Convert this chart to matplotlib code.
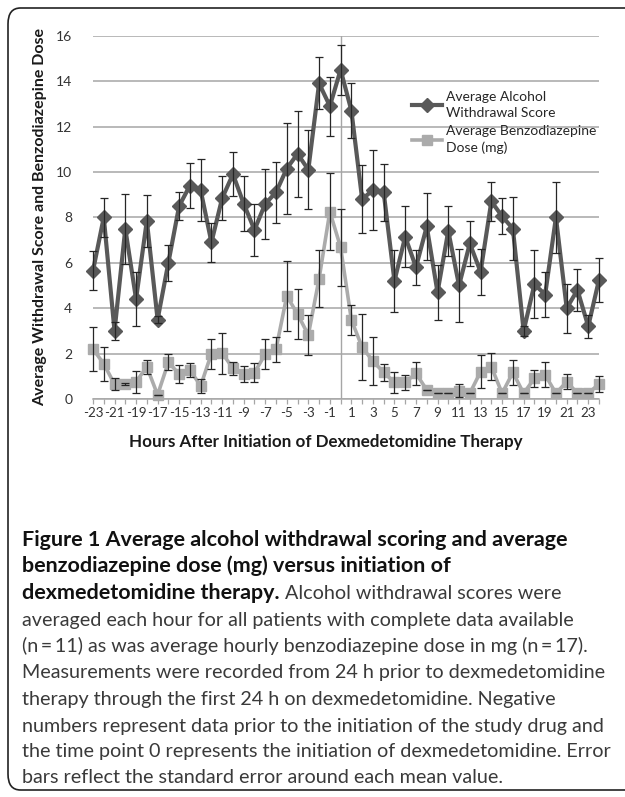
import matplotlib
matplotlib.use('Agg')
import matplotlib.pyplot as plt
from matplotlib.patches import FancyBboxPatch

plt.rcParams['font.family'] = ['Lato', 'DejaVu Sans']

# data (hours relative to dexmedetomidine start)
hours = list(range(-23, 25))
withdrawal = [5.65, 8.0, 3.0, 7.5, 4.4, 7.85, 3.5, 6.0, 8.5, 9.4, 9.2, 6.9,
              8.85, 9.9, 8.6, 7.45, 8.6, 9.1, 10.15, 10.8, 10.1, 13.9, 12.9, 14.5,
              12.7, 8.8, 9.2, 9.1, 5.2, 7.15, 5.8, 7.6, 4.7, 7.4, 5.0, 6.85,
              5.6, 8.7, 8.05, 7.5, 3.0, 5.05, 4.6, 8.0, 4.0, 4.8, 3.2, 5.25]
withdrawal_se = [0.85, 0.85, 0.4, 1.55, 1.2, 1.15, 0.15, 0.8, 0.6, 1.0, 1.35, 0.85,
                 0.95, 0.97, 1.2, 1.15, 1.55, 1.35, 2.0, 1.9, 1.75, 1.15, 1.3, 1.1,
                 1.22, 1.5, 1.75, 1.25, 1.37, 1.35, 0.78, 1.47, 1.2, 1.1, 1.6, 1.0,
                 1.0, 0.85, 0.8, 1.4, 0.22, 1.5, 1.0, 1.55, 1.08, 0.93, 0.52, 0.98]
benzo = [2.2, 1.55, 0.65, 0.65, 0.75, 1.42, 0.18, 1.62, 1.1, 1.28, 0.58, 2.0,
         2.02, 1.35, 1.1, 1.16, 1.98, 2.2, 4.54, 3.74, 2.82, 5.3, 8.25, 6.68,
         3.48, 2.28, 1.67, 1.17, 0.73, 0.73, 1.13, 0.4, 0.28, 0.28, 0.37, 0.25,
         1.2, 1.42, 0.25, 1.17, 0.25, 0.91, 1.06, 0.25, 0.76, 0.25, 0.25, 0.66]
benzo_se = [0.97, 0.74, 0.27, 0.05, 0.48, 0.3, 0.0, 0.35, 0.38, 0.3, 0.3, 0.66,
            0.9, 0.3, 0.35, 0.42, 0.65, 0.55, 1.55, 1.1, 0.88, 1.25, 1.7, 1.7,
            0.65, 1.45, 1.05, 0.38, 0.47, 0.33, 0.5, 0.0, 0.0, 0.0, 0.3, 0.0,
            0.73, 0.6, 0.0, 0.56, 0.0, 0.37, 0.55, 0.0, 0.33, 0.0, 0.0, 0.37]

series_labels = ['Average Alcohol\nWithdrawal Score', 'Average Benzodiazepine\nDose (mg)']
xlabel = 'Hours After Initiation of Dexmedetomidine Therapy'
ylabel = 'Average Withdrawal Score and Benzodiazepine Dose'

caption_bold = ['Figure 1 Average alcohol withdrawal scoring and average',
                'benzodiazepine dose (mg) versus initiation of',
                'dexmedetomidine therapy.']
caption_rest = [' Alcohol withdrawal scores were',
                'averaged each hour for all patients with complete data available',
                '(n\u2009=\u200911) as was average hourly benzodiazepine dose in mg (n\u2009=\u200917).',
                'Measurements were recorded from 24 h prior to dexmedetomidine',
                'therapy through the first 24 h on dexmedetomidine. Negative',
                'numbers represent data prior to the initiation of the study drug and',
                'the time point 0 represents the initiation of dexmedetomidine. Error',
                'bars reflect the standard error around each mean value.']

W, H = 625, 797
fig = plt.figure(figsize=(W / 100, H / 100), dpi=100)
r = fig.canvas.get_renderer()


def fit(txt, size, vertical=False):
    # scale font so the text spans the measured pixel length
    bb = txt.get_window_extent(r)
    cur = bb.height if vertical else bb.width
    txt.set_fontsize(txt.get_fontsize() * size / cur)


# rounded frame around figure + caption
frame = FancyBboxPatch((8 / W, 1 - 790 / H), 640 / W, 782 / H,
                       boxstyle='round,pad=0,rounding_size=0.02',
                       transform=fig.transFigure, fill=False,
                       ec='#222222', lw=1.2, clip_on=False)
fig.patches.append(frame)

ax = fig.add_axes([93 / W, 1 - 399 / H, 506 / W, 363.3 / H])

ax.plot(hours, withdrawal, color='#595959', lw=3, marker='D', ms=7.5,
        clip_on=False, zorder=4, label=series_labels[0])
ax.plot(hours, benzo, color='#ababab', lw=2.6, marker='s', ms=7.5,
        clip_on=False, zorder=3, label=series_labels[1])
ax.errorbar(hours, withdrawal, yerr=withdrawal_se, fmt='none', ecolor='#262626',
            elinewidth=0.9, capsize=2.6, capthick=0.9, zorder=5, clip_on=False)
ax.errorbar(hours, benzo, yerr=benzo_se, fmt='none', ecolor='#262626',
            elinewidth=0.9, capsize=2.6, capthick=0.9, zorder=5, clip_on=False)

ax.axvline(0, color='#a6a6a6', lw=1, zorder=1)

ax.set_xlim(-23, 24)
ax.set_ylim(0, 16)
ax.set_yticks(range(0, 17, 2))
ax.set_xticks(hours)
ax.set_xticklabels([str(h) if (h + 23) % 2 == 0 else '' for h in hours])
ax.grid(axis='y', color='#a6a6a6', lw=1.1)
ax.set_axisbelow(True)
for s in ['left', 'right', 'top']:
    ax.spines[s].set_visible(False)
ax.spines['bottom'].set_color('#a6a6a6')
ax.spines['bottom'].set_linewidth(1.1)
ax.tick_params(axis='x', length=3.6, width=0.9, color='#a6a6a6', pad=2,
               labelsize=9.6, labelcolor='#333333')
ax.tick_params(axis='y', length=0, pad=15, labelsize=10, labelcolor='#333333')

xl = ax.set_xlabel(xlabel, fontweight='bold', fontsize=10.5, color='#1a1a1a')
ax.xaxis.set_label_coords((326 - 93) / 506, -(434 - 399) / 363.3)
fit(xl, 395)
yl = ax.set_ylabel(ylabel, fontweight='bold', fontsize=10.5, color='#1a1a1a')
ax.yaxis.set_label_coords((47 - 93) / 506, 0.5)
fit(yl, 380, vertical=True)

leg = ax.legend(loc='upper left', bbox_to_anchor=((412 - 93) / 506, (399 - 91) / 363.3),
                frameon=False, fontsize=9.5, handlelength=2.3, handletextpad=0.3,
                borderpad=0, borderaxespad=0, labelspacing=0.45, labelcolor='#262626')
leg_txt = leg.get_texts()
fit(leg_txt[1], 150)
for t in leg_txt:
    t.set_fontsize(leg_txt[1].get_fontsize())
    t.set_linespacing(1.4)

# caption
cap_font = ['Lato', 'DejaVu Sans']
baselines = [545.5, 571.5, 599, 625.7, 652.3, 678.3, 705, 731.7, 757.3, 782.7]
bold_txt = []
for i, line in enumerate(caption_bold):
    t = fig.text(22 / W, 1 - baselines[i] / H, line, family=cap_font, fontweight='bold',
                 fontsize=12, color='#111111', va='baseline', ha='left')
    bold_txt.append(t)
fit(bold_txt[0], 541)
for t in bold_txt[1:]:
    t.set_fontsize(bold_txt[0].get_fontsize())

rest_txt = []
x3 = bold_txt[2].get_window_extent(r).x1
for j, line in enumerate(caption_rest):
    i = j + 2
    x0 = x3 if j == 0 else 22
    t = fig.text(x0 / W, 1 - baselines[i] / H, line, family=cap_font,
                 fontsize=11.5, color='#3a3a3a', va='baseline', ha='left')
    rest_txt.append(t)
fit(rest_txt[6], 589)
for t in rest_txt:
    t.set_fontsize(rest_txt[6].get_fontsize())

fig.savefig('out.png', dpi=100)
